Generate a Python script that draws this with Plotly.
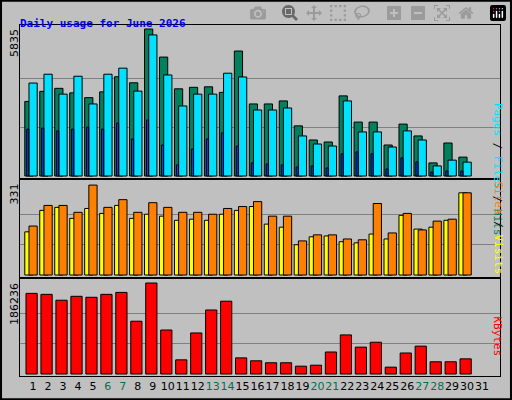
import plotly.graph_objects as go
from plotly.subplots import make_subplots

days = list(range(1, 32))
hits = [2960, 3360, 3480, 3300, 3110, 3340, 3940, 3700, 5835, 4720, 3460, 3520, 3540, 3320, 4960,
        2860, 2860, 2980, 1990, 1430, 1350, 3180, 2140, 2140, 1230, 2060, 1590, 520, 1310, 750]
files = [3690, 4040, 3250, 3960, 2860, 4040, 4280, 3370, 5600, 4010, 2780, 3250, 3250, 4080, 3930,
         2620, 2620, 2700, 1590, 1270, 1190, 2980, 1750, 1750, 1150, 1790, 1430, 400, 630, 550]
pages = [1860, 1900, 1790, 1860, 1940, 1860, 2100, 1470, 2220, 1230, 440, 1070, 1470, 1710, 1190,
         520, 480, 440, 360, 400, 320, 880, 960, 880, 280, 720, 560, 160, 200, 200]
visits = [157, 235, 246, 206, 242, 224, 253, 206, 221, 214, 199, 203, 199, 221, 235,
          249, 185, 174, 110, 139, 142, 121, 117, 149, 131, 217, 167, 174, 199, 299]
sites = [178, 253, 253, 228, 327, 246, 274, 228, 263, 246, 228, 228, 221, 242, 249,
         267, 214, 214, 124, 146, 146, 131, 128, 260, 153, 224, 164, 196, 203, 299]
kbytes = [165000, 163000, 151000, 159000, 157000, 163000, 167000, 108000, 186236, 90000,
          29000, 84000, 131000, 149000, 33000, 27000, 23000, 23000, 16000, 18000,
          45000, 80000, 55000, 65000, 14000, 43000, 57000, 25000, 25000, 31000]

weekend = [6, 7, 13, 14, 20, 21, 27, 28]
ticktext = ["<span style='color:#007050'>%d</span>" % d if d in weekend else str(d) for d in days]

BG = "#C0C0C0"
fig = make_subplots(rows=3, cols=1, shared_xaxes=True)
n = len(hits)
x = days[:n]

def bar(y, color, offset, width, row):
    fig.add_trace(go.Bar(x=x, y=y, marker=dict(color=color, line=dict(color="black", width=1)),
                         offset=offset, width=width, showlegend=False), row=row, col=1)

bar(hits, "#00805C", -0.55, 0.55, 1)
bar(files, "#00E0FF", -0.27, 0.55, 1)
bar(pages, "#0040FF", -0.42, 0.14, 1)
bar(visits, "#FFFF00", -0.55, 0.55, 2)
bar(sites, "#FF8000", -0.27, 0.55, 2)
bar(kbytes, "#FF0000", -0.47, 0.75, 3)

fig.update_layout(width=512, height=400, margin=dict(l=0, r=0, t=0, b=0),
                  paper_bgcolor=BG, plot_bgcolor=BG, barmode="overlay",
                  font=dict(family="DejaVu Sans", size=11, color="black"))
xd = [20 / 512, 500 / 512]
doms = [[1 - 178 / 400, 1 - 25 / 400], [1 - 277 / 400, 1 - 180 / 400], [1 - 376 / 400, 1 - 279 / 400]]
maxes = [5835, 331, 186236]
for i in range(3):
    r = i + 1
    fig.update_xaxes(domain=xd, range=[0.13, 32.2], row=r, col=1, showgrid=False, zeroline=False,
                     showline=True, linecolor="black", mirror=True, linewidth=1,
                     tickvals=days, ticktext=ticktext, ticks="", tickangle=0,
                     showticklabels=(r == 3))
    m = maxes[i]
    top = 153 if i == 0 else 97
    fig.update_yaxes(domain=doms[i], range=[-m * 2 / (top - 6), m * (top - 2) / (top - 6)],
                     row=r, col=1, tickvals=[m / 3, 2 * m / 3], showticklabels=False,
                     gridcolor="#808080", zeroline=False, showline=True, linecolor="black",
                     mirror=True, linewidth=1)
fig.update_xaxes(tickfont=dict(size=11), row=3, col=1)

ann = [
    dict(x=14 / 512, y=1 - 27 / 400, text="5835"),
    dict(x=14 / 512, y=1 - 182 / 400, text="331"),
    dict(x=14 / 512, y=1 - 281 / 400, text="186236"),
]
for a in ann:
    fig.add_annotation(xref="paper", yref="paper", x=a["x"], y=a["y"], text=a["text"],
                       textangle=-90, showarrow=False, yanchor="top", xanchor="center",
                       font=dict(size=11))
mono = "DejaVu Sans Mono"
fig.add_annotation(xref="paper", yref="paper", x=18 / 512, y=1 - 15 / 400, xanchor="left",
                   text="<b>Daily usage for June 2026</b>", showarrow=False,
                   font=dict(family=mono, size=11, color="#0000FF"))
right = [
    (1 - 101 / 400, "<span style='color:#00E0FF'>Pages</span> / <span style='color:#00E0FF'>Files</span> / <span style='color:#00805C'>Hits</span>"),
    (1 - 228 / 400, "<span style='color:#FF8000'>Sites</span> / <span style='color:#FFFF00'>Visits</span>"),
    (1 - 358 / 400, "<span style='color:#FF0000'>KBytes</span>"),
]
for yy, t in right:
    fig.add_annotation(xref="paper", yref="paper", x=506 / 512, y=yy, text=t, textangle=90,
                       showarrow=False, font=dict(family=mono, size=11, color="black"))
fig.add_shape(type="rect", xref="paper", yref="paper", x0=0.002, y0=0.002, x1=0.998, y1=0.998,
              line=dict(color="black", width=2))
fig.write_html("out.html", post_script="document.body.style.margin='0';")
